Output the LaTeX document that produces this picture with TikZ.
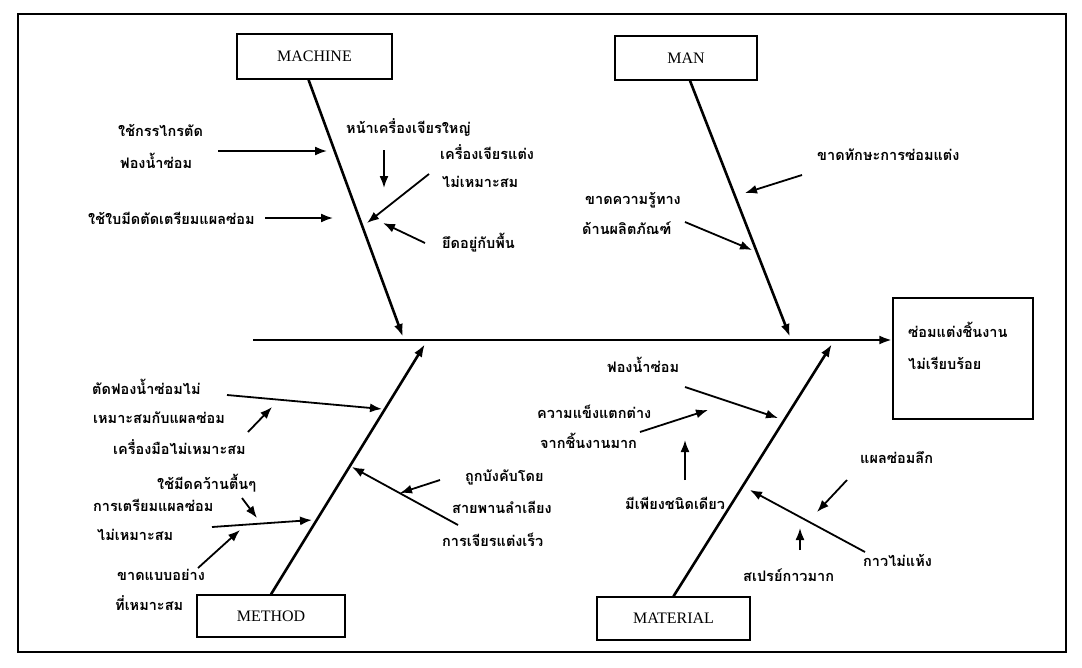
\documentclass[tikz,border=0pt]{standalone}
\usepackage{fontspec}
\setmainfont{Liberation Serif}
\newfontfamily\thaifont[Script=Thai]{Loma}
\usetikzlibrary{arrows.meta}
\begin{document}
\begin{tikzpicture}[x=1pt,y=-1pt,
  catbox/.style={draw, line width=1.4pt, inner sep=0pt, font=\fontsize{16}{19}\selectfont},
  lbl/.style={font=\thaifont\bfseries\fontsize{14.5}{17}\selectfont, inner sep=0pt, anchor=west},
  bone/.style={line width=2.6pt, -{Latex[length=13pt,width=9pt]}},
  cause/.style={line width=1.8pt, -{Latex[length=12pt,width=9pt]}}]
\useasboundingbox (0,0) rectangle (1082,667);
% outer frame
\draw[line width=1.1pt] (18,14) rectangle (1066,652);

% category boxes and effect box
\node[catbox, minimum width=155pt, minimum height=45pt] (machine) at (314.5,56.5) {MACHINE};
\node[catbox, minimum width=142pt, minimum height=44pt] (man) at (686,58) {MAN};
\node[catbox, minimum width=148pt, minimum height=42pt] (method) at (271,616) {METHOD};
\node[catbox, minimum width=153pt, minimum height=43pt] (material) at (673.5,618.5) {MATERIAL};
\node[catbox, minimum width=140pt, minimum height=121pt] (effect) at (963,358.5) {};
\node[lbl] (eff1) at (908,330) {ซ่อมแต่งชิ้นงาน};
\node[lbl] (eff2) at (908,363) {ไม่เรียบร้อย};

% spine and main bones
\coordinate (spineL) at (253,340);
\draw[bone] (spineL) -- (spineL -| effect.west);
\coordinate (jMachine) at (403,337);
\coordinate (jMan) at (790,337);
\coordinate (jMethod) at (425,344);
\coordinate (jMaterial) at (832,344);
\draw[bone] ([xshift=-6pt]machine.south) -- (jMachine);
\draw[bone] ([xshift=4pt]man.south) -- (jMan);
\draw[bone] (method.north) -- (jMethod);
\draw[bone] (material.north) -- (jMaterial);

% MACHINE causes
\node[lbl] (m1a) at (118,130) {ใช้กรรไกรตัด};
\node[lbl] (m1b) at (120,161) {ฟองน้ำซ่อม};
\node[lbl] (m2) at (88,218) {ใช้ใบมีดตัดเตรียมแผลซ่อม};
\node[lbl] (m3) at (346,128) {หน้าเครื่องเจียรใหญ่};
\node[lbl] (m4a) at (440,152) {เครื่องเจียรแต่ง};
\node[lbl] (m4b) at (442,182) {ไม่เหมาะสม};
\node[lbl] (m5) at (442,243) {ยึดอยู่กับพื้น};
\coordinate (a1s) at (218,151); \coordinate (a1e) at (327,151);
\coordinate (a2s) at (265,218); \coordinate (a2e) at (333,218);
\coordinate (a3s) at (384,150); \coordinate (a3e) at (384,188);
\coordinate (a4s) at (429,174); \coordinate (a4e) at (367,223);
\coordinate (a5s) at (425,243); \coordinate (a5e) at (383,223);
\draw[cause] (a1s) -- (a1e);
\draw[cause] (a2s) -- (a2e);
\draw[cause] (a3s) -- (a3e);
\draw[cause] (a4s) -- (a4e);
\draw[cause] (a5s) -- (a5e);

% MAN causes
\node[lbl] (n1) at (817,155) {ขาดทักษะการซ่อมแต่ง};
\node[lbl] (n2a) at (585,200) {ขาดความรู้ทาง};
\node[lbl] (n2b) at (582,228) {ด้านผลิตภัณฑ์};
\coordinate (b1s) at (802,175); \coordinate (b1e) at (745,193);
\coordinate (b2s) at (685,222); \coordinate (b2e) at (752,250);
\draw[cause] (b1s) -- (b1e);
\draw[cause] (b2s) -- (b2e);

% METHOD causes
\node[lbl] (t1a) at (92,387) {ตัดฟองน้ำซ่อมไม่};
\node[lbl] (t1b) at (93,418) {เหมาะสมกับแผลซ่อม};
\node[lbl] (t2) at (113,447) {เครื่องมือไม่เหมาะสม};
\node[lbl] (t3) at (157,483) {ใช้มีดคว้านตื้นๆ};
\node[lbl] (t4a) at (93,505) {การเตรียมแผลซ่อม};
\node[lbl] (t4b) at (97,535) {ไม่เหมาะสม};
\node[lbl] (t5a) at (117,575) {ขาดแบบอย่าง};
\node[lbl] (t5b) at (115,603) {ที่เหมาะสม};
\node[lbl] (t6a) at (465,477) {ถูกบังคับโดย};
\node[lbl] (t6b) at (452,507) {สายพานลำเลียง};
\node[lbl] (t7) at (442,540) {การเจียรแต่งเร็ว};
\coordinate (c1s) at (227,395); \coordinate (c1e) at (382,409);
\coordinate (c2s) at (248,432); \coordinate (c2e) at (272,407);
\coordinate (c3s) at (242,498); \coordinate (c3e) at (257,518);
\coordinate (c4s) at (212,527); \coordinate (c4e) at (312,520);
\coordinate (c5s) at (198,568); \coordinate (c5e) at (240,530);
\coordinate (c6s) at (440,480); \coordinate (c6e) at (400,493);
\coordinate (c7s) at (458,525); \coordinate (c7e) at (352,467);
\draw[cause] (c1s) -- (c1e);
\draw[cause] (c2s) -- (c2e);
\draw[cause] (c3s) -- (c3e);
\draw[cause] (c4s) -- (c4e);
\draw[cause] (c5s) -- (c5e);
\draw[cause] (c6s) -- (c6e);
\draw[cause] (c7s) -- (c7e);

% MATERIAL causes
\node[lbl] (r1) at (607,365) {ฟองน้ำซ่อม};
\node[lbl] (r2a) at (537,412) {ความแข็งแตกต่าง};
\node[lbl] (r2b) at (540,441) {จากชิ้นงานมาก};
\node[lbl] (r3) at (625,503) {มีเพียงชนิดเดียว};
\node[lbl] (r4) at (860,458) {แผลซ่อมลึก};
\node[lbl] (r5) at (863,560) {กาวไม่แห้ง};
\node[lbl] (r6) at (743,575) {สเปรย์กาวมาก};
\coordinate (d1s) at (685,387); \coordinate (d1e) at (778,418);
\coordinate (d2s) at (640,432); \coordinate (d2e) at (708,410);
\coordinate (d3s) at (685,480); \coordinate (d3e) at (685,440);
\coordinate (d4s) at (865,552); \coordinate (d4e) at (750,490);
\coordinate (d5s) at (847,480); \coordinate (d5e) at (817,512);
\coordinate (d6s) at (800,550); \coordinate (d6e) at (800,528);
\draw[cause] (d1s) -- (d1e);
\draw[cause] (d2s) -- (d2e);
\draw[cause] (d3s) -- (d3e);
\draw[cause] (d4s) -- (d4e);
\draw[cause] (d5s) -- (d5e);
\draw[cause] (d6s) -- (d6e);
\end{tikzpicture}
\end{document}
